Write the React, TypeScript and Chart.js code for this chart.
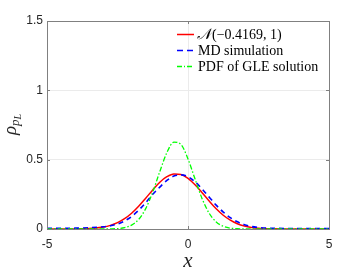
import React, { useEffect, useRef } from "react";
import { Chart, registerables } from "chart.js";

Chart.register(...registerables);

const xValues = [
  -5, -4.5, -4, -3.5, -3, -2.75, -2.5, -2.25, -2, -1.75, -1.5, -1.25, -1, -0.75, -0.5, -0.25,
  0, 0.25, 0.5, 0.75, 1, 1.25, 1.5, 1.75, 2, 2.25, 2.5, 3, 3.5, 4, 4.5, 5,
];
const normalValues = [
  0.0, 0.0001, 0.0007, 0.0034, 0.0142, 0.0262, 0.0455, 0.0744, 0.114, 0.164, 0.222, 0.282, 0.337,
  0.377, 0.3975, 0.3934, 0.3657, 0.3194, 0.262, 0.202, 0.146, 0.0994, 0.0636, 0.0381, 0.0215,
  0.0114, 0.0057, 0.0012, 0.0002, 0.0, 0.0, 0.0,
];
const mdValues = [
  0.005, 0.005, 0.006, 0.009, 0.016, 0.023, 0.036, 0.058, 0.09, 0.135, 0.19, 0.25, 0.302, 0.35,
  0.382, 0.39, 0.377, 0.34, 0.288, 0.23, 0.172, 0.122, 0.082, 0.052, 0.031, 0.018, 0.011, 0.005,
  0.004, 0.004, 0.004, 0.004,
];
const gleValues = [
  0.0, 0.0, 0.0, 0.0, 0.0002, 0.0007, 0.0028, 0.0096, 0.028, 0.069, 0.147, 0.267, 0.414, 0.55,
  0.627, 0.61, 0.505, 0.36, 0.219, 0.114, 0.051, 0.0194, 0.0063, 0.0018, 0.0004, 0.0001, 0.0, 0.0,
  0.0, 0.0, 0.0, 0.0,
];
const xTicks = [-5, 0, 5];
const yTicks = [0, 0.5, 1, 1.5];
const legendLabels = ["(\u22120.4169, 1)", "MD simulation", "PDF of GLE solution"];

const SERIF = "'Liberation Serif', 'DejaVu Serif', serif";
const toPoints = (ys: number[]) => xValues.map((x, i) => ({ x, y: ys[i] }));

export default function App() {
  const ref = useRef<HTMLCanvasElement | null>(null);
  useEffect(() => {
    document.body.style.margin = "0";
    const canvas = ref.current!;
    const decor = {
      id: "decor",
      afterDatasetsDraw(chart: any) {
        const { ctx, chartArea: a } = chart;
        const xs = chart.scales.x;
        const ys = chart.scales.y;
        ctx.save();
        ctx.strokeStyle = "#808080";
        ctx.lineWidth = 1;
        ctx.strokeRect(Math.round(a.left) + 0.5, Math.round(a.top) + 0.5, Math.round(a.right - a.left), Math.round(a.bottom - a.top));
        ctx.beginPath();
        xTicks.forEach((t) => {
          const px = Math.round(xs.getPixelForValue(t)) + 0.5;
          ctx.moveTo(px, a.bottom);
          ctx.lineTo(px, a.bottom - 3);
          ctx.moveTo(px, a.top);
          ctx.lineTo(px, a.top + 3);
        });
        yTicks.forEach((t) => {
          const py = Math.round(ys.getPixelForValue(t)) + 0.5;
          ctx.moveTo(a.left, py);
          ctx.lineTo(a.left + 3, py);
          ctx.moveTo(a.right, py);
          ctx.lineTo(a.right - 3, py);
        });
        ctx.stroke();

        const rows = [34, 50, 66];
        const colors = ["#ff0000", "#0000ff", "#00ff00"];
        const dashes = [[], [6, 4], [5, 2, 1, 2]];
        const lx0 = 177;
        const lx1 = 194;
        rows.forEach((ry, i) => {
          ctx.strokeStyle = colors[i];
          ctx.lineWidth = 1.5;
          ctx.setLineDash(dashes[i]);
          ctx.beginPath();
          ctx.moveTo(lx0, ry + 0.5);
          ctx.lineTo(lx1, ry + 0.5);
          ctx.stroke();
        });
        ctx.setLineDash([]);
        ctx.fillStyle = "#000";
        ctx.textBaseline = "middle";
        ctx.textAlign = "left";
        let tx = 197;
        ctx.font = "italic 15px " + SERIF;
        ctx.fillText("\u{1D4A9}", tx, rows[0] + 1);
        tx += ctx.measureText("\u{1D4A9}").width + 1;
        ctx.font = "14px " + SERIF;
        ctx.fillText(legendLabels[0], tx, rows[0] + 1);
        ctx.fillText(legendLabels[1], 198, rows[1] + 1);
        ctx.fillText(legendLabels[2], 198, rows[2] + 1);

        ctx.textAlign = "center";
        ctx.textBaseline = "alphabetic";
        ctx.font = "italic 21px " + SERIF;
        ctx.fillStyle = "#262626";
        ctx.fillText("x", xs.getPixelForValue(0), 267);

        ctx.save();
        ctx.translate(16, 135);
        ctx.rotate(-Math.PI / 2);
        ctx.textAlign = "left";
        ctx.font = "italic 19px " + SERIF;
        ctx.fillText("\u03C1", 0, 0);
        let w = ctx.measureText("\u03C1").width;
        ctx.font = "italic 13px " + SERIF;
        ctx.fillText("p", w, 3);
        w += ctx.measureText("p").width;
        ctx.font = "italic 10px " + SERIF;
        ctx.fillText("L", w, 5);
        ctx.restore();
        ctx.restore();
      },
    };
    const chart = new Chart(canvas, {
      type: "line",
      data: {
        datasets: [
          {
            label: "N(-0.4169,1)",
            data: toPoints(normalValues),
            borderColor: "#ff0000",
            borderWidth: 1.5,
            pointRadius: 0,
            cubicInterpolationMode: "monotone",
            order: 3,
          },
          {
            label: "MD simulation",
            data: toPoints(mdValues),
            borderColor: "#0000ff",
            borderWidth: 1.6,
            borderDash: [5, 4],
            pointRadius: 0,
            cubicInterpolationMode: "monotone",
            order: 2,
          },
          {
            label: "PDF of GLE solution",
            data: toPoints(gleValues),
            borderColor: "#00ff00",
            borderWidth: 1.3,
            borderDash: [5, 2, 1.5, 2],
            pointRadius: 0,
            cubicInterpolationMode: "monotone",
            order: 1,
          },
        ],
      },
      options: {
        animation: false,
        responsive: false,
        layout: { padding: { top: 21, right: 34, left: 0, bottom: 0 } },
        plugins: { legend: { display: false }, tooltip: { enabled: false } },
        scales: {
          x: {
            type: "linear",
            min: -5,
            max: 5,
            afterBuildTicks: (s: any) => {
              s.ticks = xTicks.map((v) => ({ value: v }));
            },
            afterFit: (s: any) => {
              s.height = 44;
            },
            ticks: {
              color: "#262626",
              font: { family: "'Liberation Sans'", size: 12 },
              padding: 8,
              maxRotation: 0,
              callback: (v: any) => String(v),
            },
            grid: { color: "#ebebeb", drawTicks: false },
            border: { display: false },
          },
          y: {
            min: 0,
            max: 1.5,
            afterBuildTicks: (s: any) => {
              s.ticks = yTicks.map((v) => ({ value: v }));
            },
            afterFit: (s: any) => {
              s.width = 47;
            },
            ticks: {
              color: "#262626",
              font: { family: "'Liberation Sans'", size: 12 },
              padding: 4,
              callback: (v: any) => String(v),
            },
            grid: { color: "#ebebeb", drawTicks: false },
            border: { display: false },
          },
        },
      },
      plugins: [decor],
    });
    if ((document as any).fonts) {
      Promise.all([
        (document as any).fonts.load("14px 'Liberation Serif'"),
        (document as any).fonts.load("italic 14px 'Liberation Serif'"),
      ]).then(() => chart.update()).catch(() => {});
    }
    return () => chart.destroy();
  }, []);
  return (
    <div style={{ position: "absolute", left: 0, top: 0, width: 363, height: 273 }}>
      <canvas ref={ref} width={363} height={273} style={{ width: 363, height: 273 }} />
    </div>
  );
}
